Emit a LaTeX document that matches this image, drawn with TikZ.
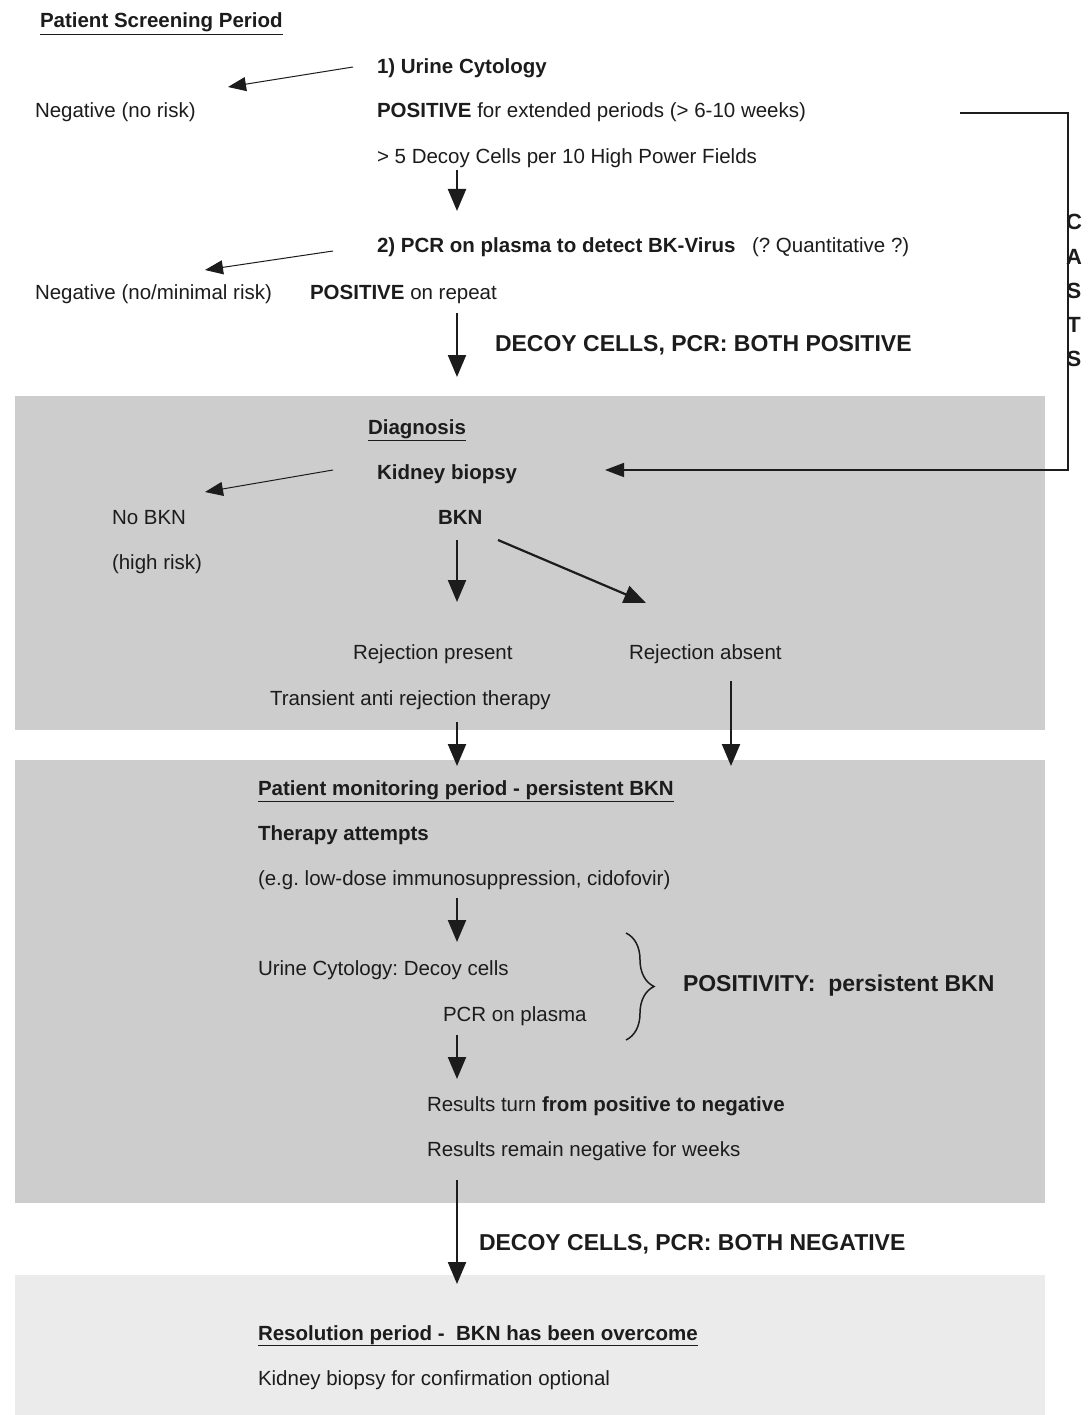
\documentclass[tikz,border=0pt]{standalone}
\usepackage{fontspec}
\setmainfont{Liberation Sans}
\usetikzlibrary{arrows.meta,decorations.pathreplacing}
\definecolor{boxgray}{RGB}{205,205,205}
\definecolor{boxlight}{RGB}{235,235,235}
\definecolor{ink}{RGB}{28,28,28}
\frenchspacing
\begin{document}
\frenchspacing
\begin{tikzpicture}[x=1pt,y=-1pt,
  txt/.style={anchor=base west,inner sep=0pt,outer sep=0pt,text=ink,font=\fontsize{20.5}{24}\selectfont},
  boldtxt/.style={txt,font=\fontsize{20.5}{24}\selectfont\bfseries},
  bigtxt/.style={txt,font=\fontsize{23}{27}\selectfont\bfseries},
  letter/.style={anchor=center,inner sep=0pt,text=ink,font=\fontsize{22}{24}\selectfont\bfseries},
  thickarrow/.style={draw=ink,line width=2.2pt,-{Triangle[width=18pt,length=22pt]}},
  thinarrow/.style={draw=ink,line width=1pt,-{Triangle[width=14pt,length=18pt]}},
  loopline/.style={draw=ink,line width=1.6pt,-{Triangle[width=14pt,length=19pt]}}]
\useasboundingbox (0,0) rectangle (1088,1415);
\fill[white] (0,0) rectangle (1088,1415);
% panels
\fill[boxgray] (15,396) rectangle (1045,730);
\fill[boxgray] (15,760) rectangle (1045,1203);
\fill[boxlight] (15,1275) rectangle (1045,1415);

% screening period
\node[boldtxt] (title) at (40,28) {\underline{Patient Screening Period}};
\node[boldtxt] (urine) at (377,74) {1) Urine Cytology};
\node[txt] (neg1) at (35,118) {Negative (no risk)};
\node[txt] (pos1) at (377,118) {\textbf{POSITIVE} for extended periods (> 6-10 weeks)};
\node[txt] (decoy) at (377,164) {> 5 Decoy Cells per 10 High Power Fields};
\node[boldtxt] (pcr) at (377,253) {2) PCR on plasma to detect BK-Virus};
\node[txt] (quant) at (752,253) {(? Quantitative ?)};
\node[txt] (neg2) at (35,299) {Negative (no/minimal risk)};
\node[txt] (pos2) at (310,299) {\textbf{POSITIVE} on repeat};
\node[bigtxt] (bothpos) at (495,351) {DECOY CELLS, PCR: BOTH POSITIVE};

% CASTS loop
\coordinate (castsA) at (960,113);
\coordinate (castsB) at (1068,113);
\coordinate (castsC) at (1068,470);
\coordinate (castsD) at (605,470);
\draw[loopline] (castsA) -- (castsB) -- (castsC) -- (castsD);
\node[letter] (lC) at (1074,222) {C};
\node[letter] (lA) at (1074,257) {A};
\node[letter] (lS) at (1074,291) {S};
\node[letter] (lT) at (1074,325) {T};
\node[letter] (lS2) at (1074,359) {S};

% diagnosis
\node[boldtxt] (diag) at (368,434) {\underline{Diagnosis}};
\node[boldtxt] (biopsy) at (377,479) {Kidney biopsy};
\node[txt] (nobkn) at (112,524) {No BKN};
\node[txt] (highrisk) at (112,569) {(high risk)};
\node[boldtxt] (bkn) at (438,524) {BKN};
\node[txt] (rejp) at (353,659) {Rejection present};
\node[txt] (reja) at (629,659) {Rejection absent};
\node[txt] (trans) at (270,705) {Transient anti rejection therapy};

% monitoring
\node[boldtxt] (monit) at (258,795) {\underline{Patient monitoring period - persistent BKN}};
\node[boldtxt] (therapy) at (258,840) {Therapy attempts};
\node[txt] (eg) at (258,885) {(e.g. low-dose immunosuppression, cidofovir)};
\node[txt] (ucyt) at (258,975) {Urine Cytology: Decoy cells};
\node[txt] (pcrp) at (443,1021) {PCR on plasma};
\node[bigtxt] (positivity) at (683,991) {POSITIVITY:\ \ persistent BKN};
\node[txt] (turn) at (427,1111) {Results turn \textbf{from positive to negative}};
\node[txt] (remain) at (427,1156) {Results remain negative for weeks};
\node[bigtxt] (bothneg) at (479,1250) {DECOY CELLS, PCR: BOTH NEGATIVE};

% resolution
\node[boldtxt] (resol) at (258,1340) {\underline{Resolution period -\ \ BKN has been overcome}};
\node[txt] (confirm) at (258,1385) {Kidney biopsy for confirmation optional};

% connector end points
\coordinate (a1s) at (353,67);   \coordinate (a1e) at (228,87);
\coordinate (a2s) at (457,170);  \coordinate (a2e) at (457,211);
\coordinate (a3s) at (333,251);  \coordinate (a3e) at (205,270);
\coordinate (a4s) at (457,313);  \coordinate (a4e) at (457,377);
\coordinate (a5s) at (333,470);  \coordinate (a5e) at (205,492);
\coordinate (a6s) at (457,540);  \coordinate (a6e) at (457,602);
\coordinate (a7s) at (498,540);  \coordinate (a7e) at (646,603);
\coordinate (a8s) at (457,722);  \coordinate (a8e) at (457,766);
\coordinate (a9s) at (731,681);  \coordinate (a9e) at (731,766);
\coordinate (a10s) at (457,898); \coordinate (a10e) at (457,942);
\coordinate (a11s) at (457,1035);\coordinate (a11e) at (457,1079);
\coordinate (a12s) at (457,1180);\coordinate (a12e) at (457,1284);
\coordinate (braceTop) at (626,933);
\coordinate (braceBot) at (626,1040);

\draw[thinarrow] (a1s) -- (a1e);
\draw[thickarrow] (a2s) -- (a2e);
\draw[thinarrow] (a3s) -- (a3e);
\draw[thickarrow] (a4s) -- (a4e);
\draw[thinarrow] (a5s) -- (a5e);
\draw[thickarrow] (a6s) -- (a6e);
\draw[thickarrow] (a7s) -- (a7e);
\draw[thickarrow] (a8s) -- (a8e);
\draw[thickarrow] (a9s) -- (a9e);
\draw[thickarrow] (a10s) -- (a10e);
\draw[thickarrow] (a11s) -- (a11e);
\draw[thickarrow] (a12s) -- (a12e);
\draw[draw=ink,line width=1.5pt,decorate,decoration={brace,amplitude=28pt,aspect=0.5}] (braceTop) -- (braceBot);
\end{tikzpicture}
\end{document}
